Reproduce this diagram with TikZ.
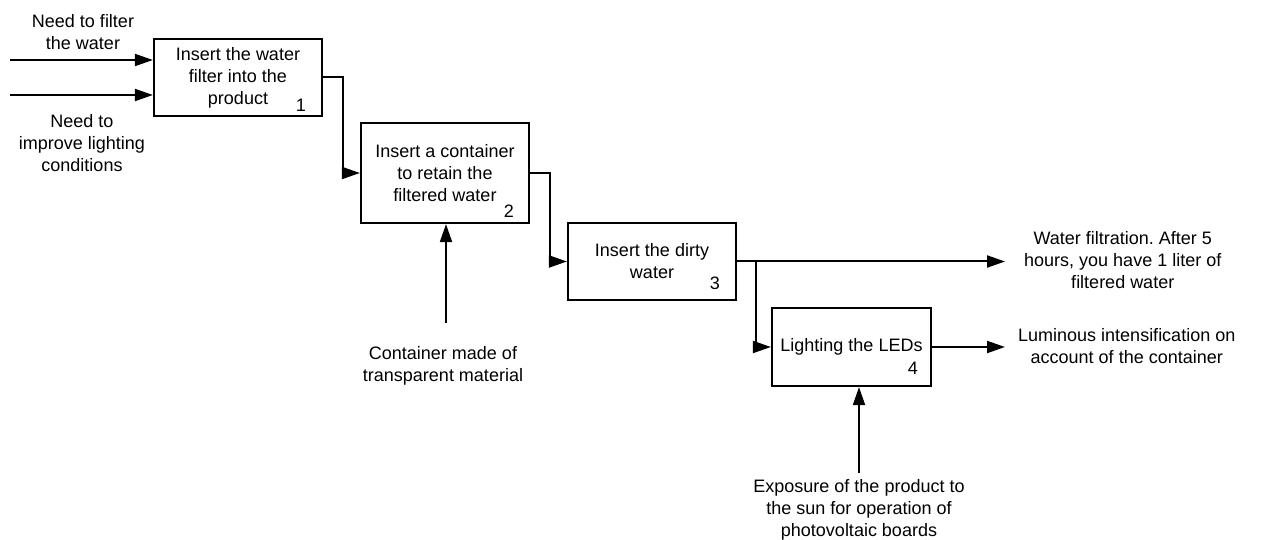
\documentclass[tikz,border=0pt]{standalone}
\usepackage{fontspec}
\setmainfont{Liberation Sans}
\usetikzlibrary{positioning,arrows.meta}
\frenchspacing

\begin{document}
\begin{tikzpicture}[x=1pt, y=-1pt,
    stepBox/.style={rectangle, draw=black, line width=2.2pt, minimum width=168pt, minimum height=77pt, align=center, inner sep=0pt, font=\fontsize{18}{22}\selectfont},
    stepNum/.style={anchor=south east, inner sep=0pt, font=\fontsize{18}{22}\selectfont},
    noteText/.style={align=center, inner sep=0pt, font=\fontsize{18}{22}\selectfont},
    flow/.style={line width=2pt, -{Triangle[length=18pt,width=12pt]}}
]
    \useasboundingbox (0,0) rectangle (1272,540);

    % activity boxes
    \node[stepBox] (b1) at (238,77.5) {Insert the water\\filter into the\\product};
    \node[stepBox, minimum height=100pt] (b2) at (445,173) {Insert a container\\to retain the\\filtered water};
    \node[stepBox] (b3) at (652,261.5) {Insert the dirty\\water};
    \node[stepBox, minimum width=159pt, minimum height=78pt] (b4) at (851.5,347) {Lighting the LEDs};

    \node[stepNum] (n1) at ([shift={(-17pt,5pt)}]b1.south east) {1};
    \node[stepNum] (n2) at ([shift={(-16pt,6pt)}]b2.south east) {2};
    \node[stepNum] (n3) at ([shift={(-17pt,11pt)}]b3.south east) {3};
    \node[stepNum] (n4) at ([shift={(-14pt,12pt)}]b4.south east) {4};

    % inputs, controls and outputs
    \node[noteText] (need1) at (83,32) {Need to filter\\the water};
    \node[noteText] (need2) at (82,143) {Need to\\improve lighting\\conditions};
    \node[noteText] (ctrl2) at (443,366) {Container made of\\transparent material};
    \node[noteText] (ctrl4) at (859,510) {Exposure of the product to\\the sun for operation of\\photovoltaic boards};
    \node[noteText, anchor=west] (out1) at (1024,260) {Water filtration. After 5\\hours, you have 1 liter of\\filtered water};
    \node[noteText, anchor=west] (out2) at (1018,346) {Luminous intensification on\\account of the container};

    \coordinate (in1) at (10,60);
    \coordinate (in2) at (10,95);
    \coordinate (c2) at (446,323);
    \coordinate (c4) at (859,473);
    \coordinate (o1) at (1005,261.5);
    \coordinate (o2) at (1005,347);

    \draw[flow] (in1) -- (in1 -| b1.west);
    \draw[flow] (in2) -- (in2 -| b1.west);
    \draw[flow] (b1.east) -- ++(20,0) |- (b2.west);
    \draw[flow] (b2.east) -- ++(20,0) |- (b3.west);
    \draw[flow] (b3.east) -- (o1);
    \draw[flow] ([xshift=19pt]b3.east) |- (b4.west);
    \draw[flow] (b4.east) -- (o2);
    \draw[flow] (c2) -- (c2 |- b2.south);
    \draw[flow] (c4) -- (c4 |- b4.south);
\end{tikzpicture}
\end{document}
